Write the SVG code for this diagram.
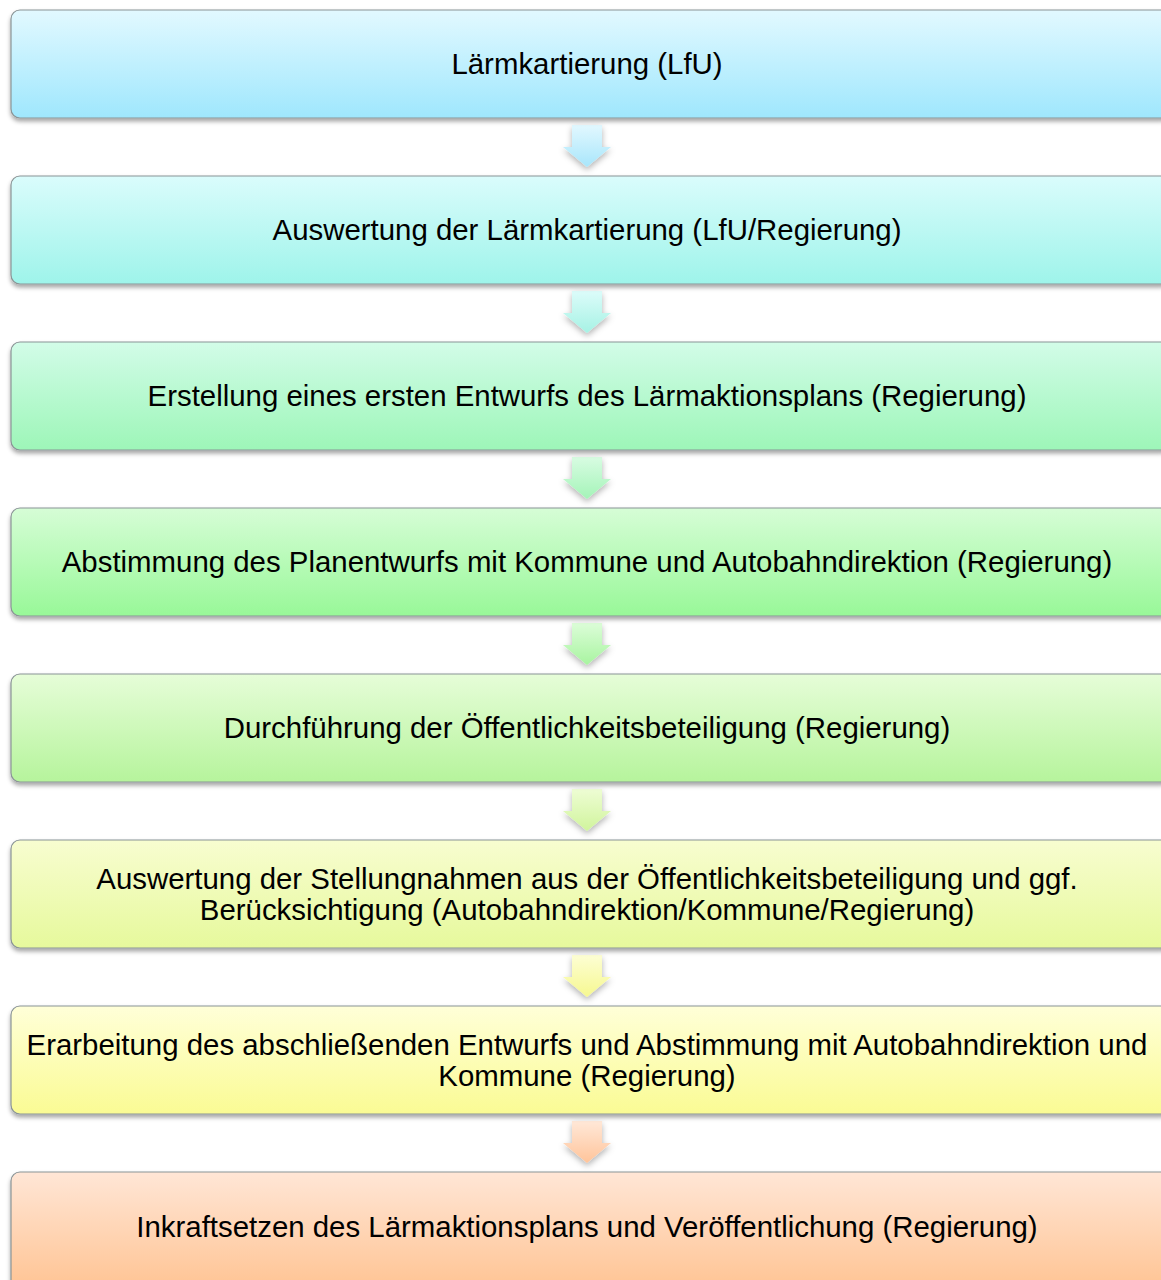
<svg xmlns="http://www.w3.org/2000/svg" width="1161" height="1280" viewBox="0 0 1161 1280">
<style>
.box{stroke:#8a9496;stroke-width:1.2;filter:url(#sh)}
.arr{filter:url(#sh2)}
.t{font-family:"Liberation Sans",Arial,sans-serif;font-size:29.4px;fill:#000;text-anchor:middle}
</style>
<defs>
<filter id="sh" x="-5%" y="-20%" width="110%" height="150%">
<feDropShadow dx="0" dy="3" stdDeviation="2" flood-color="#000" flood-opacity="0.35"/>
</filter>
<filter id="sh2" x="-30%" y="-20%" width="160%" height="160%">
<feDropShadow dx="0" dy="3" stdDeviation="3" flood-color="#000" flood-opacity="0.3"/>
</filter>
<linearGradient id="g1" x1="0" y1="0" x2="0" y2="1"><stop offset="0" stop-color="#e2f9ff"/><stop offset="1" stop-color="#9fe7fd"/></linearGradient>
<linearGradient id="g2" x1="0" y1="0" x2="0" y2="1"><stop offset="0" stop-color="#dafcfc"/><stop offset="1" stop-color="#9ef4ea"/></linearGradient>
<linearGradient id="g3" x1="0" y1="0" x2="0" y2="1"><stop offset="0" stop-color="#d2fce8"/><stop offset="1" stop-color="#9df6b8"/></linearGradient>
<linearGradient id="g4" x1="0" y1="0" x2="0" y2="1"><stop offset="0" stop-color="#d6fdd6"/><stop offset="1" stop-color="#98f898"/></linearGradient>
<linearGradient id="g5" x1="0" y1="0" x2="0" y2="1"><stop offset="0" stop-color="#e6fdd8"/><stop offset="1" stop-color="#b6f49c"/></linearGradient>
<linearGradient id="g6" x1="0" y1="0" x2="0" y2="1"><stop offset="0" stop-color="#f8fdd0"/><stop offset="1" stop-color="#e6f99c"/></linearGradient>
<linearGradient id="g7" x1="0" y1="0" x2="0" y2="1"><stop offset="0" stop-color="#ffffd8"/><stop offset="1" stop-color="#fafb94"/></linearGradient>
<linearGradient id="g8" x1="0" y1="0" x2="0" y2="1"><stop offset="0" stop-color="#ffe6d6"/><stop offset="1" stop-color="#ffc08c"/></linearGradient>
<linearGradient id="a1" x1="0" y1="0" x2="0" y2="1"><stop offset="0" stop-color="#e2f8ff"/><stop offset="1" stop-color="#a8e6fb"/></linearGradient>
<linearGradient id="a2" x1="0" y1="0" x2="0" y2="1"><stop offset="0" stop-color="#dcfcfa"/><stop offset="1" stop-color="#a6f2e4"/></linearGradient>
<linearGradient id="a3" x1="0" y1="0" x2="0" y2="1"><stop offset="0" stop-color="#d8fce2"/><stop offset="1" stop-color="#a4f4b8"/></linearGradient>
<linearGradient id="a4" x1="0" y1="0" x2="0" y2="1"><stop offset="0" stop-color="#dcfdd8"/><stop offset="1" stop-color="#a8f4a0"/></linearGradient>
<linearGradient id="a5" x1="0" y1="0" x2="0" y2="1"><stop offset="0" stop-color="#eefdd4"/><stop offset="1" stop-color="#d0f49c"/></linearGradient>
<linearGradient id="a6" x1="0" y1="0" x2="0" y2="1"><stop offset="0" stop-color="#fdfed4"/><stop offset="1" stop-color="#f6f890"/></linearGradient>
<linearGradient id="a7" x1="0" y1="0" x2="0" y2="1"><stop offset="0" stop-color="#ffe8d8"/><stop offset="1" stop-color="#ffc49a"/></linearGradient>
<path id="arrow" d="M572,0 H602 V22 H611 L587,42 L563,22 H572 Z"/>
</defs>

<g id="connectors">
<use href="#arrow" class="arr" fill="url(#a1)" y="125"/>
<use href="#arrow" class="arr" fill="url(#a2)" y="291"/>
<use href="#arrow" class="arr" fill="url(#a3)" y="457"/>
<use href="#arrow" class="arr" fill="url(#a4)" y="623"/>
<use href="#arrow" class="arr" fill="url(#a5)" y="789"/>
<use href="#arrow" class="arr" fill="url(#a6)" y="955"/>
<use href="#arrow" class="arr" fill="url(#a7)" y="1121"/>
</g>

<g id="n1"><rect class="box" x="11" y="10" width="1160" height="108" rx="9" fill="url(#g1)"/><text class="t" x="587" y="74">Lärmkartierung (LfU)</text></g>
<g id="n2"><rect class="box" x="11" y="176" width="1160" height="108" rx="9" fill="url(#g2)"/><text class="t" x="587" y="240">Auswertung der Lärmkartierung (LfU/Regierung)</text></g>
<g id="n3"><rect class="box" x="11" y="342" width="1160" height="108" rx="9" fill="url(#g3)"/><text class="t" x="587" y="406">Erstellung eines ersten Entwurfs des Lärmaktionsplans (Regierung)</text></g>
<g id="n4"><rect class="box" x="11" y="508" width="1160" height="108" rx="9" fill="url(#g4)"/><text class="t" x="587" y="572">Abstimmung des Planentwurfs mit Kommune und Autobahndirektion (Regierung)</text></g>
<g id="n5"><rect class="box" x="11" y="674" width="1160" height="108" rx="9" fill="url(#g5)"/><text class="t" x="587" y="738">Durchführung der Öffentlichkeitsbeteiligung (Regierung)</text></g>
<g id="n6"><rect class="box" x="11" y="840" width="1160" height="108" rx="9" fill="url(#g6)"/><text class="t" x="587" y="889">Auswertung der Stellungnahmen aus der Öffentlichkeitsbeteiligung und ggf.</text><text class="t" x="587" y="920">Berücksichtigung (Autobahndirektion/Kommune/Regierung)</text></g>
<g id="n7"><rect class="box" x="11" y="1006" width="1160" height="108" rx="9" fill="url(#g7)"/><text class="t" x="587" y="1055">Erarbeitung des abschließenden Entwurfs und Abstimmung mit Autobahndirektion und</text><text class="t" x="587" y="1086">Kommune (Regierung)</text></g>
<g id="n8"><rect class="box" x="11" y="1172" width="1160" height="130" rx="9" fill="url(#g8)"/><text class="t" x="587" y="1237">Inkraftsetzen des Lärmaktionsplans und Veröffentlichung (Regierung)</text></g>
</svg>
